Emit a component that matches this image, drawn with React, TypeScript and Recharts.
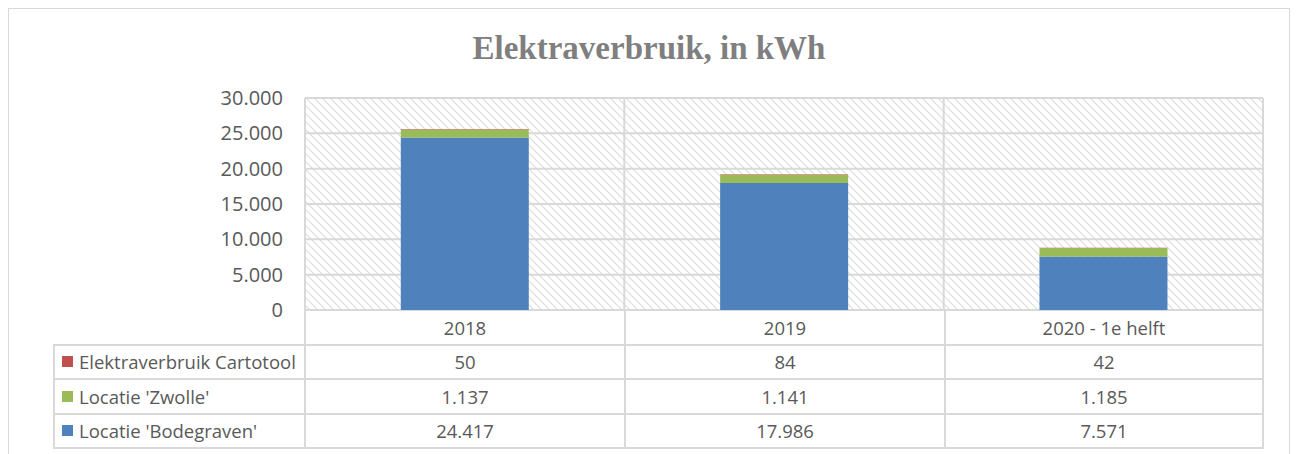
import { Bar, BarChart, CartesianGrid, XAxis, YAxis } from 'recharts';

const categories = ['2018', '2019', '2020 - 1e helft'];
const bodegraven = [24417, 17986, 7571];
const zwolle = [1137, 1141, 1185];
const cartotool = [50, 84, 42];
const yTicks = [0, 5000, 10000, 15000, 20000, 25000, 30000];

// table rows, top to bottom
const series = [
    { key: 'cartotool', name: 'Elektraverbruik Cartotool', color: '#c0504d', values: cartotool },
    { key: 'zwolle', name: "Locatie 'Zwolle'", color: '#9bbb59', values: zwolle },
    { key: 'bodegraven', name: "Locatie 'Bodegraven'", color: '#4f81bd', values: bodegraven },
];

const data = categories.map((category, i) => ({
    category,
    bodegraven: bodegraven[i],
    zwolle: zwolle[i],
    cartotool: cartotool[i],
}));

const fmt = (v: number) => String(v).replace(/\B(?=(\d{3})+(?!\d))/g, '.');

const LINE = '#d9d9d9';
const TEXT = '#595959';
const FONT = "'Open Sans', sans-serif";

const W = 1282;
const CHART_H = 320;
const plotLeft = 297;
const plotRight = 1255;
const plotTop = 90;
const plotBottom = 302;
const colXs = [297, 617, 937, 1255];
const rowYs = [302, 337, 371, 406, 440];
const tableLeft = 46;

export default function App() {
    const lines: JSX.Element[] = [];
    colXs.forEach((x, i) =>
        lines.push(
            <div key={'v' + i} style={{ position: 'absolute', left: x - 1, top: rowYs[0], width: 2, height: rowYs[4] - rowYs[0] + 1, background: LINE }} />
        )
    );
    lines.push(
        <div key="vl" style={{ position: 'absolute', left: tableLeft - 1, top: rowYs[1] - 1, width: 2, height: rowYs[4] - rowYs[1] + 2, background: LINE }} />
    );
    rowYs.slice(1).forEach((y, i) =>
        lines.push(
            <div key={'h' + i} style={{ position: 'absolute', left: tableLeft - 1, top: y - 1, width: plotRight - tableLeft + 2, height: 2, background: LINE }} />
        )
    );

    const cellText: React.CSSProperties = {
        position: 'absolute',
        fontFamily: FONT,
        fontSize: 18.5,
        color: TEXT,
        lineHeight: '22px',
        whiteSpace: 'nowrap',
    };

    return (
        <div style={{ position: 'relative', width: W, height: 446, overflow: 'hidden' }}>
            <svg width={0} height={0} style={{ position: 'absolute' }}>
                <defs>
                    <pattern id="hatch" width={8} height={8} patternUnits="userSpaceOnUse">
                        <rect width={8} height={8} fill="#ffffff" />
                        <path d="M-1,-1 L9,9 M-1,7 L1,9 M7,-1 L9,1" stroke="#dcdcdc" strokeWidth={1.1} />
                    </pattern>
                </defs>
            </svg>
            <div style={{ position: 'absolute', left: 0, top: 0, width: W - 2, height: 470, border: `1px solid ${LINE}` }} />
            <div
                style={{
                    position: 'absolute',
                    left: 0,
                    top: 22,
                    width: W,
                    textAlign: 'center',
                    fontFamily: "'Liberation Serif', serif",
                    fontWeight: 'bold',
                    fontSize: 33,
                    lineHeight: '36px',
                    color: '#7f7f7f',
                }}
            >
                Elektraverbruik, in kWh
            </div>
            <div style={{ position: 'absolute', left: 0, top: 0 }}>
                <BarChart
                    width={W}
                    height={CHART_H}
                    data={data}
                    barCategoryGap="30%"
                    margin={{ top: plotTop, bottom: CHART_H - plotBottom, left: plotLeft - 60, right: W - plotRight }}
                >
                    <CartesianGrid
                        stroke={LINE}
                        strokeWidth={2}
                        fill="url(#hatch)"
                        fillOpacity={1}
                        verticalCoordinatesGenerator={({ offset }: any) =>
                            categories.map((_, i) => offset.left + (i * offset.width) / categories.length).concat(offset.left + offset.width)
                        }
                    />
                    <XAxis dataKey="category" hide />
                    <YAxis
                        width={60}
                        domain={[0, 30000]}
                        ticks={yTicks}
                        tickFormatter={fmt}
                        tickLine={false}
                        axisLine={false}
                        tickSize={0}
                        tickMargin={22}
                        tick={{ fill: TEXT, fontSize: 20, fontFamily: FONT }}
                        interval={0}
                    />
                    <Bar dataKey="bodegraven" stackId="a" fill="#4f81bd" isAnimationActive={false} />
                    <Bar dataKey="zwolle" stackId="a" fill="#9bbb59" isAnimationActive={false} />
                    <Bar dataKey="cartotool" stackId="a" fill="#c0504d" isAnimationActive={false} />
                </BarChart>
            </div>
            {lines}
            {categories.map((c, i) => (
                <div
                    key={'c' + i}
                    style={{ ...cellText, left: colXs[i], width: colXs[i + 1] - colXs[i], textAlign: 'center', top: (rowYs[0] + rowYs[1]) / 2 - 11 }}
                >
                    {c}
                </div>
            ))}
            {series.map((s, r) => {
                const yc = (rowYs[r + 1] + rowYs[r + 2]) / 2;
                return (
                    <div key={s.key}>
                        <div style={{ position: 'absolute', left: 54, top: yc - 6, width: 11, height: 11, background: s.color }} />
                        <div style={{ ...cellText, left: 71, top: yc - 11 }}>{s.name}</div>
                        {s.values.map((v, i) => (
                            <div
                                key={i}
                                style={{ ...cellText, left: colXs[i], width: colXs[i + 1] - colXs[i], textAlign: 'center', top: yc - 11 }}
                            >
                                {fmt(v)}
                            </div>
                        ))}
                    </div>
                );
            })}
        </div>
    );
}
